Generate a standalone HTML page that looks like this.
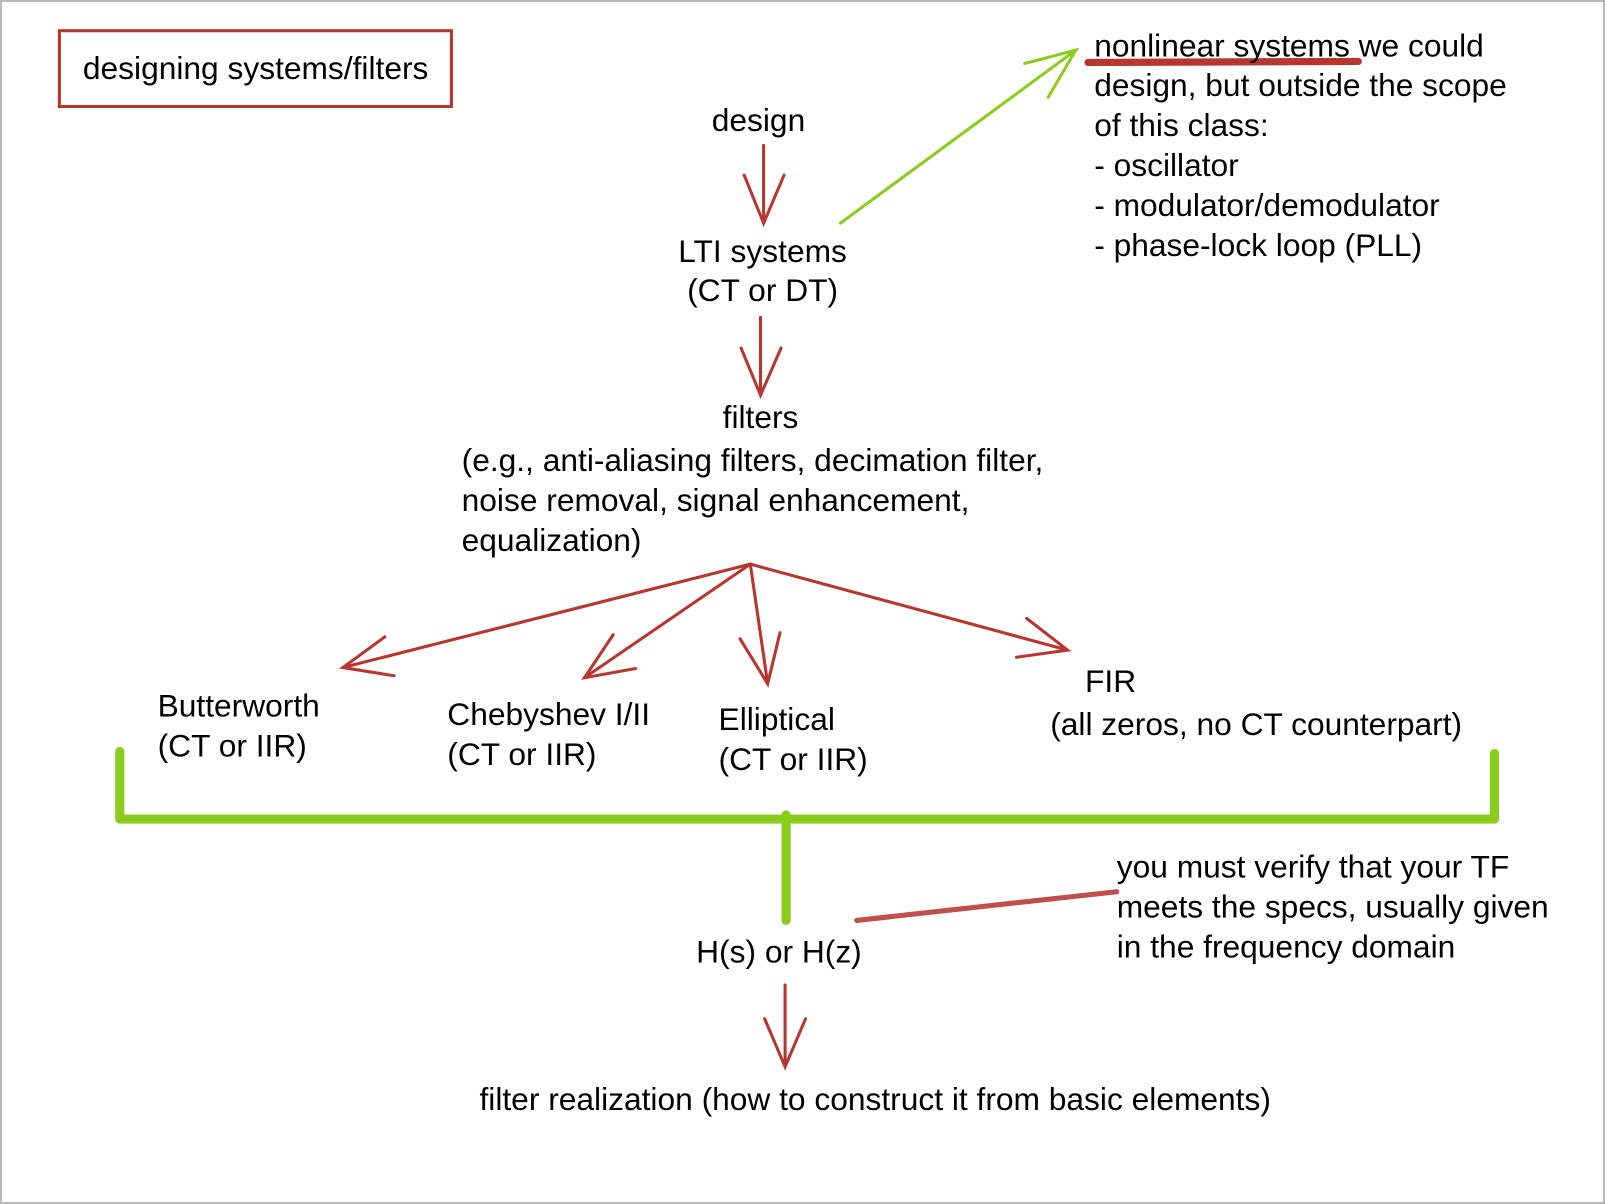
<!DOCTYPE html>
<html><head><style>
html,body{margin:0;padding:0;background:#fff;}
svg{display:block;}
text{font-family:"Liberation Sans",sans-serif;font-size:31px;fill:#000;}
</style></head><body>
<svg width="1605" height="1204" viewBox="0 0 1568 1176" preserveAspectRatio="none" xmlns="http://www.w3.org/2000/svg">
<rect x="1" y="1" width="1566" height="1174" fill="#fff" stroke="#b8b9bb" stroke-width="2"/>
<rect x="58" y="30" width="383" height="74" fill="none" stroke="#b83630" stroke-width="3"/>
<text x="81" y="77">designing systems/filters</text>

<text x="741" y="128" text-anchor="middle">design</text>
<g stroke="#b83630" stroke-width="3" fill="none" stroke-linecap="round">
<path d="M746 142 V218 M727 171 L746 218 L766 171"/>
<path d="M743 310 V386 M724 340 L743 386 L763 340"/>
<path d="M733 551 L335 652 M376 622 L335 652 L385 660"/>
<path d="M733 551 L571 662 M599 620 L571 662 L621 653"/>
<path d="M733 551 L750 668 M723 624 L750 668 L762 618"/>
<path d="M733 551 L1043 635 M1003 604 L1043 635 L993 642"/>
<path d="M767 962 V1042 M747 995 L767 1042 L787 995"/>
</g>
<g stroke="#8bcd1d" stroke-width="3" fill="none" stroke-linecap="round">
<path d="M821 218 L1051 49 M1001 62 L1051 49 L1024 95"/>
</g>
<g stroke="#8bcd1d" stroke-width="9" fill="none" stroke-linecap="round" stroke-linejoin="round">
<path d="M117 734 V800 H1460 V736"/>
<path d="M768 796 V899"/>
</g>
<path d="M1063 61 L1327 60" stroke="#b83630" stroke-width="7" stroke-linecap="round"/>
<path d="M837 899 L1091 871" stroke="#c0504a" stroke-width="5" stroke-linecap="round"/>

<text x="745" y="256" text-anchor="middle">LTI systems</text>
<text x="745" y="294" text-anchor="middle">(CT or DT)</text>
<text x="743" y="418" text-anchor="middle">filters</text>
<text x="451" y="460">(e.g., anti-aliasing filters, decimation filter,</text>
<text x="451" y="499">noise removal, signal enhancement,</text>
<text x="451" y="538">equalization)</text>

<text x="1069" y="55">nonlinear systems we could</text>
<text x="1069" y="94">design, but outside the scope</text>
<text x="1069" y="133">of this class:</text>
<text x="1069" y="172">- oscillator</text>
<text x="1069" y="211">- modulator/demodulator</text>
<text x="1069" y="250">- phase-lock loop (PLL)</text>

<text x="154" y="700">Butterworth</text>
<text x="154" y="739">(CT or IIR)</text>
<text x="437" y="708">Chebyshev I/II</text>
<text x="437" y="747">(CT or IIR)</text>
<text x="702" y="713">Elliptical</text>
<text x="702" y="752">(CT or IIR)</text>
<text x="1060" y="676">FIR</text>
<text x="1026" y="718">(all zeros, no CT counterpart)</text>

<text x="1091" y="857">you must verify that your TF</text>
<text x="1091" y="896">meets the specs, usually given</text>
<text x="1091" y="935">in the frequency domain</text>
<text x="761" y="940" text-anchor="middle">H(s) or H(z)</text>
<text x="855" y="1084" text-anchor="middle">filter realization (how to construct it from basic elements)</text>
</svg>
</body></html>
